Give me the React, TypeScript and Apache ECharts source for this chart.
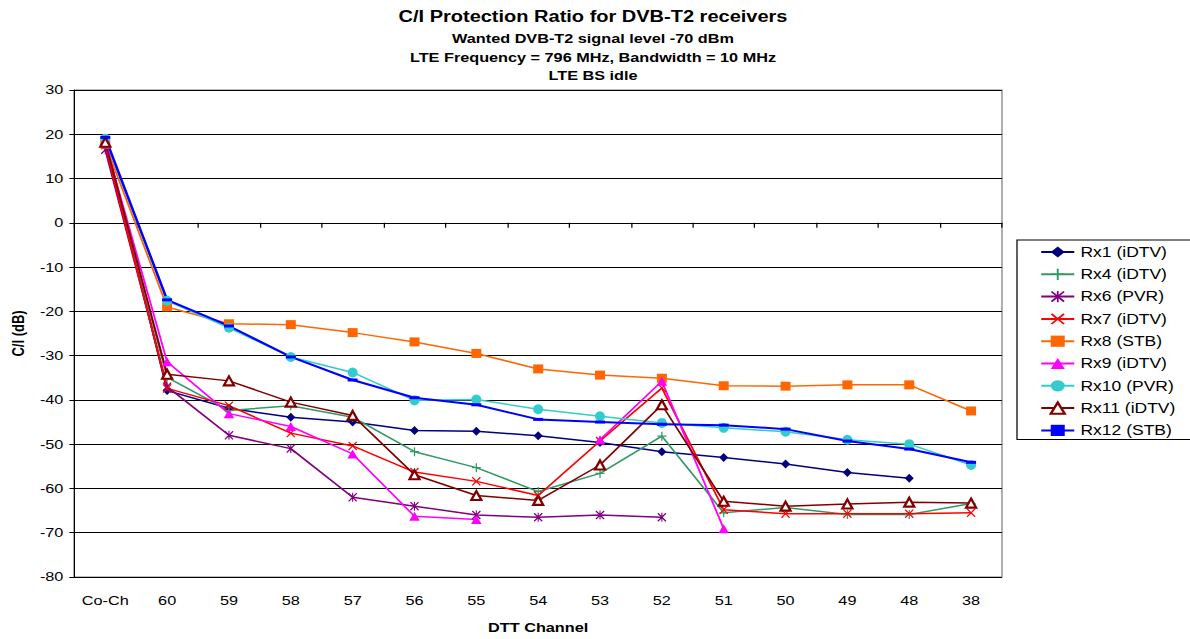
import React, { useEffect, useRef } from "react";
import * as echarts from "echarts";

// DTT channels on the x axis
const channels = ["Co-Ch", "60", "59", "58", "57", "56", "55", "54", "53", "52", "51", "50", "49", "48", "38"];

// C/I protection ratios in dB per receiver (null = not measured)
const rx1 = [19.0, -37.9, -41.9, -43.9, -45.0, -46.9, -47.1, -48.1, -49.6, -51.7, -53.0, -54.5, -56.4, -57.7, null];
const rx4 = [17.5, -34.9, -42.4, -41.3, -43.9, -51.7, -55.3, -60.7, -56.6, -48.2, -65.5, -64.3, -65.9, -65.9, -63.4];
const rx6 = [16.5, -37.0, -48.0, -51.0, -62.0, -64.0, -66.0, -66.5, -66.0, -66.5, null, null, null, null, null];
const rx7 = [17.5, -37.4, -41.3, -47.5, -50.4, -56.3, -58.4, -61.6, -49.3, -37.3, -64.8, -65.7, -65.7, -65.7, -65.5];
const rx8 = [17.8, -19.0, -22.8, -23.0, -24.8, -26.9, -29.5, -33.0, -34.4, -35.1, -36.8, -36.9, -36.6, -36.6, -42.5];
const rx9 = [18.0, -31.4, -43.1, -46.0, -52.2, -66.3, -67.0, null, -49.0, -35.8, -69.1, null, null, null, null];
const rx10 = [19.0, -17.6, -23.7, -30.3, -33.8, -40.1, -39.9, -42.1, -43.7, -45.2, -46.3, -47.2, -49.0, -50.0, -54.7];
const rx11 = [18.2, -34.2, -35.7, -40.5, -43.5, -56.9, -61.6, -62.7, -54.7, -41.1, -62.9, -64.0, -63.5, -63.1, -63.3];
const rx12 = [19.3, -17.4, -23.3, -30.3, -35.5, -39.5, -41.1, -44.4, -45.0, -45.5, -45.7, -46.6, -49.3, -51.1, -54.1];

// Marker shapes
const PLUS = "path://M4.3,0H5.7V4.3H10V5.7H5.7V10H4.3V5.7H0V4.3H4.3Z";
const CROSS = "path://M0,1L1,0L5,4L9,0L10,1L6,5L10,9L9,10L5,6L1,10L0,9L4,5Z";
const STAR = "path://M0,1L1,0L5,4L9,0L10,1L6,5L10,9L9,10L5,6L1,10L0,9L4,5Z M4.4,0H5.6V10H4.4Z";
const DASH = "path://M0,0H10V3H0Z";

const FONT = 'Arial, "Liberation Sans", sans-serif';

// The chart is laid out in a narrower box and widened with a horizontal
// stretch, which gives the wide lettering of the printed chart.
const STRETCH = 1.25;
const W = 1190;
const H = 639;
const sx = (px: number) => px / STRETCH;

type SeriesDef = {
  name: string;
  data: (number | null)[];
  color: string;
  symbol: string;
  size: [number, number];
  width: number;
};

const seriesDefs: SeriesDef[] = [
  { name: "Rx1 (iDTV)", data: rx1, color: "#000080", symbol: "diamond", size: [9, 9], width: 1.5 },
  { name: "Rx4 (iDTV)", data: rx4, color: "#339966", symbol: PLUS, size: [9, 9], width: 1.5 },
  { name: "Rx6 (PVR)", data: rx6, color: "#800080", symbol: STAR, size: [9, 9], width: 1.5 },
  { name: "Rx7 (iDTV)", data: rx7, color: "#FF0000", symbol: CROSS, size: [9, 9], width: 1.5 },
  { name: "Rx8 (STB)", data: rx8, color: "#FF6600", symbol: "rect", size: [10, 9], width: 1.5 },
  { name: "Rx9 (iDTV)", data: rx9, color: "#FF00FF", symbol: "triangle", size: [10.5, 9], width: 1.5 },
  { name: "Rx10 (PVR)", data: rx10, color: "#33CCCC", symbol: "circle", size: [10, 10], width: 1.5 },
  { name: "Rx11 (iDTV)", data: rx11, color: "#800000", symbol: "emptyTriangle", size: [10, 9], width: 1.5 },
  { name: "Rx12 (STB)", data: rx12, color: "#0000FF", symbol: DASH, size: [10, 3], width: 2 },
];

export default function App() {
  const ref = useRef<HTMLDivElement>(null);

  useEffect(() => {
    if (!ref.current) return;
    const chart = echarts.init(ref.current, undefined, { renderer: "svg" });

    const titleLines = [
      { text: "C/I Protection Ratio for DVB-T2 receivers", top: 9, size: 16 },
      { text: "Wanted DVB-T2 signal level -70 dBm", top: 32, size: 13 },
      { text: "LTE Frequency = 796 MHz, Bandwidth = 10 MHz", top: 51, size: 13 },
      { text: "LTE BS idle", top: 69, size: 13 },
    ];

    chart.setOption({
      animation: false,
      backgroundColor: "#ffffff",
      title: titleLines.map((t) => ({
        text: t.text,
        left: sx(593),
        textAlign: "center",
        top: t.top,
        padding: 0,
        textStyle: { fontFamily: FONT, fontWeight: "bold", fontSize: t.size, color: "#000" },
      })),
      grid: {
        left: sx(72),
        right: sx(188),
        top: 90,
        bottom: 58,
        show: true,
        borderColor: "#808080",
        borderWidth: 1,
        backgroundColor: "transparent",
      },
      legend: {
        orient: "vertical",
        left: sx(1017),
        top: 240,
        padding: [5, sx(19), 2, sx(23)],
        itemWidth: sx(33),
        itemHeight: 14,
        itemGap: 8.3,
        borderColor: "#000",
        borderWidth: 1,
        textStyle: { fontFamily: FONT, fontSize: 14, color: "#000" },
        data: seriesDefs.map((s) => s.name),
      },
      xAxis: {
        type: "category",
        data: channels,
        boundaryGap: true,
        name: "DTT Channel",
        nameLocation: "middle",
        nameGap: 44,
        nameTextStyle: { fontFamily: FONT, fontWeight: "bold", fontSize: 13, color: "#000" },
        axisLine: { lineStyle: { color: "#000", width: 1 } },
        axisTick: { show: true, length: 5, lineStyle: { color: "#000" } },
        axisLabel: { fontFamily: FONT, fontSize: 13, color: "#000", margin: 17 },
        splitLine: { show: false },
      },
      yAxis: {
        type: "value",
        min: -80,
        max: 30,
        interval: 10,
        name: "C/I (dB)",
        nameLocation: "middle",
        nameGap: 38,
        nameTextStyle: { fontFamily: FONT, fontWeight: "bold", fontSize: 13, color: "#000" },
        axisLine: { show: true, lineStyle: { color: "#000", width: 1 } },
        axisTick: { show: true, length: sx(5), lineStyle: { color: "#000" } },
        axisLabel: { fontFamily: FONT, fontSize: 13, color: "#000", margin: sx(11) },
        splitLine: { show: true, lineStyle: { color: "#000", width: 1 } },
      },
      series: seriesDefs.map((s) => ({
        name: s.name,
        type: "line",
        data: s.data,
        symbol: s.symbol,
        symbolSize: [sx(s.size[0]), s.size[1]],
        showAllSymbol: true,
        connectNulls: false,
        color: s.color,
        lineStyle: { color: s.color, width: s.width },
        itemStyle: {
          color: s.color,
          borderColor: s.color,
          borderWidth: s.symbol === "emptyTriangle" ? 1.5 : 0,
        },
        emphasis: { disabled: true },
      })),
    });

    return () => chart.dispose();
  }, []);

  return (
    <div
      ref={ref}
      style={{
        position: "fixed",
        left: 0,
        top: 0,
        width: sx(W),
        height: H,
        transform: `scaleX(${STRETCH})`,
        transformOrigin: "0 0",
      }}
    />
  );
}
